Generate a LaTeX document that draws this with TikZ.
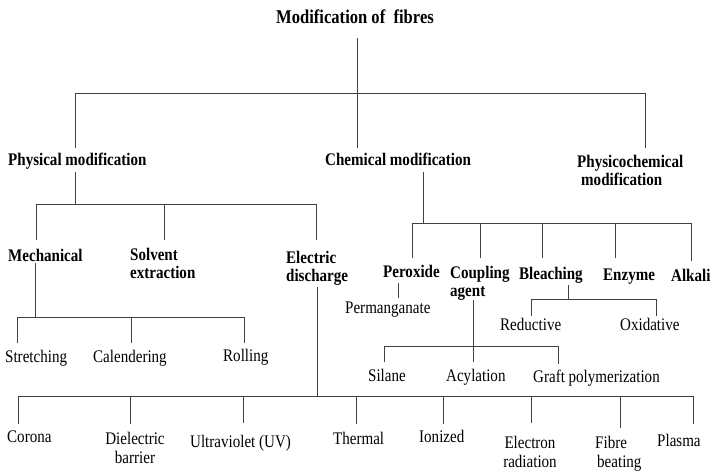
\documentclass[tikz,border=0pt]{standalone}
\usepackage{fontspec}
\setmainfont{Liberation Serif}[FakeStretch=0.85]
\begin{document}
\begin{tikzpicture}[x=1pt,y=-1pt,
  conn/.style={draw=black!75,line width=1pt},
  lbl/.style={inner sep=0pt,font=\fontsize{17.7}{21}\selectfont,text height=12.5pt,text depth=3.5pt},
  blbl/.style={lbl,font=\bfseries\fontsize{17.7}{21}\selectfont},
  mlbl/.style={inner sep=0pt,font=\fontsize{17.7}{19}\selectfont},
  mblbl/.style={inner sep=0pt,font=\bfseries\fontsize{17.7}{18.5}\selectfont}]
\useasboundingbox (0,0) rectangle (716,475);
% ---------- nodes ----------
\node[blbl,font=\bfseries\fontsize{19.5}{22}\selectfont] (root) at (355,19) {Modification of\ \ fibres};
\node[blbl,anchor=west] (phys) at (8,161) {Physical modification};
\node[blbl,anchor=west] (chem) at (325,161) {Chemical modification};
\node[mblbl,align=left,anchor=north west] (pchem) at (577,155) {Physicochemical\\\hspace*{4pt}modification};
% physical
\node[blbl,anchor=west] (mech) at (8,257) {Mechanical};
\node[mblbl,align=left,anchor=north west] (solv) at (130,248) {Solvent\\extraction};
\node[mblbl,align=left,anchor=north west] (elec) at (286,251) {Electric\\discharge};
\node[lbl,anchor=west] (stre) at (5,358) {Stretching};
\node[lbl,anchor=west] (cal) at (93,358) {Calendering};
\node[lbl,anchor=west] (roll) at (223,357) {Rolling};
\node[lbl,anchor=west] (cor) at (7,438) {Corona};
\node[mlbl,align=center,anchor=north] (die) at (135,432) {Dielectric\\barrier};
\node[lbl,anchor=west] (uv) at (190,443) {Ultraviolet (UV)};
\node[lbl,anchor=west] (the) at (333,440) {Thermal};
\node[lbl,anchor=west] (ion) at (419,438) {Ionized};
\node[mlbl,align=center,anchor=north] (ele) at (530,436) {Electron\\radiation};
\node[mlbl,align=left,anchor=north west] (fib) at (595,436) {Fibre\\\hspace*{2pt}beating};
\node[lbl,anchor=west] (pla) at (657,442) {Plasma};
% chemical
\node[blbl,anchor=west] (per) at (383,273) {Peroxide};
\node[mblbl,align=left,anchor=north west] (cou) at (450,266) {Coupling\\agent};
\node[blbl,anchor=west] (ble) at (519,275) {Bleaching};
\node[blbl,anchor=west] (enz) at (603,276) {Enzyme};
\node[blbl,anchor=west] (alk) at (671,277) {Alkali};
\node[lbl,anchor=west] (perm) at (345,309) {Permanganate};
\node[lbl,anchor=west] (sil) at (368,377) {Silane};
\node[lbl,anchor=west] (acy) at (446,377) {Acylation};
\node[lbl,anchor=west] (gra) at (533,378) {Graft polymerization};
\node[lbl,anchor=west] (red) at (500,326) {Reductive};
\node[lbl,anchor=west] (oxi) at (620,326) {Oxidative};
% ---------- connector points ----------
\coordinate (root-out) at (357,38);  \coordinate (b0) at (357,93);
\coordinate (phys-in) at (75,148);   \coordinate (chem-in) at (357,148); \coordinate (pchem-in) at (645,148);
\coordinate (phys-out) at (75,172);  \coordinate (b1) at (75,204);
\coordinate (mech-in) at (36,240);   \coordinate (solv-in) at (164,240); \coordinate (elec-in) at (316,240);
\coordinate (mech-out) at (35,263);  \coordinate (b2) at (35,317);
\coordinate (stre-in) at (17,343);   \coordinate (cal-in) at (131,343);  \coordinate (roll-in) at (244,343);
\coordinate (elec-out) at (317,287); \coordinate (b3) at (317,396);
\coordinate (cor-in) at (18,424);  \coordinate (die-in) at (130,424); \coordinate (uv-in) at (243,423);
\coordinate (the-in) at (356,424); \coordinate (ion-in) at (443,424); \coordinate (ele-in) at (531,423);
\coordinate (fib-in) at (620,428); \coordinate (pla-in) at (693,424);
\coordinate (chem-out) at (423,172); \coordinate (b4) at (423,223);
\coordinate (per-in) at (412,258); \coordinate (cou-in) at (480,258); \coordinate (ble-in) at (542,258);
\coordinate (enz-in) at (615,258); \coordinate (alk-in) at (691,261);
\coordinate (per-out) at (398,283); \coordinate (perm-in) at (398,298);
\coordinate (cou-out) at (473,300); \coordinate (b5) at (473,346);
\coordinate (sil-in) at (384,362); \coordinate (acy-in) at (473,362); \coordinate (gra-in) at (558,364);
\coordinate (ble-out) at (568,285); \coordinate (b6) at (568,299);
\coordinate (red-in) at (531,316); \coordinate (oxi-in) at (656,316);
% ---------- connectors ----------
\draw[conn] (root-out) -- (b0);
\draw[conn] (b0 -| phys-in) -- (b0 -| pchem-in);
\foreach \c in {phys-in,chem-in,pchem-in} \draw[conn] (b0 -| \c) -- (\c);
\draw[conn] (phys-out) -- (b1);
\draw[conn] (b1 -| mech-in) -- (b1 -| elec-in);
\foreach \c in {mech-in,solv-in,elec-in} \draw[conn] (b1 -| \c) -- (\c);
\draw[conn] (mech-out) -- (b2);
\draw[conn] (b2 -| stre-in) -- (b2 -| roll-in);
\foreach \c in {stre-in,cal-in,roll-in} \draw[conn] (b2 -| \c) -- (\c);
\draw[conn] (elec-out) -- (b3);
\draw[conn] (b3 -| cor-in) -- (b3 -| pla-in);
\foreach \c in {cor-in,die-in,uv-in,the-in,ion-in,ele-in,fib-in,pla-in} \draw[conn] (b3 -| \c) -- (\c);
\draw[conn] (chem-out) -- (b4);
\draw[conn] (b4 -| per-in) -- (b4 -| alk-in);
\foreach \c in {per-in,cou-in,ble-in,enz-in,alk-in} \draw[conn] (b4 -| \c) -- (\c);
\draw[conn] (per-out) -- (perm-in);
\draw[conn] (cou-out) -- (b5);
\draw[conn] (b5 -| sil-in) -- (b5 -| gra-in);
\foreach \c in {sil-in,acy-in,gra-in} \draw[conn] (b5 -| \c) -- (\c);
\draw[conn] (ble-out) -- (b6);
\draw[conn] (b6 -| red-in) -- (b6 -| oxi-in);
\foreach \c in {red-in,oxi-in} \draw[conn] (b6 -| \c) -- (\c);
\end{tikzpicture}
\end{document}
